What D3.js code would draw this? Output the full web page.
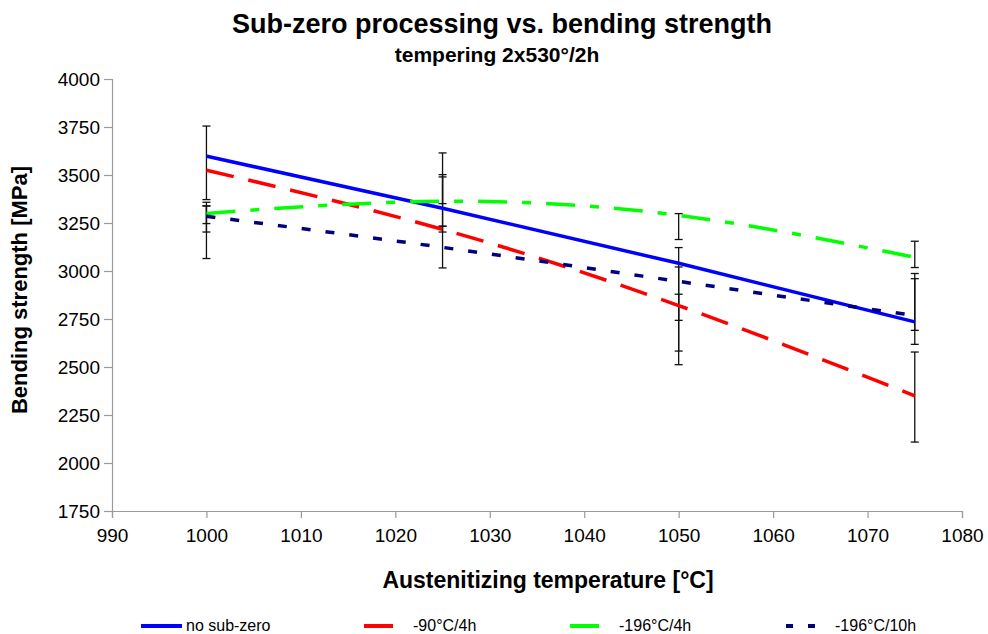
<!DOCTYPE html>
<html>
<head>
<meta charset="utf-8">
<script src="https://cdn.jsdelivr.net/npm/d3@7"></script>
<style>
  html, body { margin: 0; padding: 0; background: #fff; }
  svg { display: block; font-family: "Liberation Sans", Arial, sans-serif; }
</style>
</head>
<body>
<svg id="chart" width="988" height="634"></svg>
<script>
// ---- data ----
const temps = [1000, 1025, 1050, 1075];
const seriesNames = ["no sub-zero", "-90°C/4h", "-196°C/4h", "-196°C/10h"];
const noSubZero   = [3598, 3327, 3040, 2735];
const minus90_4h  = [3525, 3217, 2820, 2350];
const minus196_4h = [3300, 3363, 3290, 3071];
const minus196_10h = [3285, 3123, 2946, 2768];
// error bar ranges (low / high) per series
const noSubZeroLow   = [3372, 3233, 2743, 2618];
const noSubZeroHigh  = [3755, 3615, 3122, 2987];
const minus90_4hLow  = [3247, 3016, 2512, 2109];
const minus90_4hHigh = [3358, 3490, 2879, 2578];
const minus196_4hLow  = [3203, 3351, 3164, 3018];
const minus196_4hHigh = [3339, 3502, 3299, 3155];
const minus196_10hLow  = [3065, 3203, 2583, 2691];
const minus196_10hHigh = [3339, 3233, 3021, 2960];
const xTicks = [990, 1000, 1010, 1020, 1030, 1040, 1050, 1060, 1070, 1080];
const yTicks = [1750, 2000, 2250, 2500, 2750, 3000, 3250, 3500, 3750, 4000];
const titleText = "Sub-zero processing vs. bending strength";
const subtitleText = "tempering 2x530°/2h";
const xTitle = "Austenitizing temperature [°C]";
const yTitle = "Bending strength [MPa]";

const series = [
  {name: seriesNames[0], values: noSubZero, low: noSubZeroLow, high: noSubZeroHigh, color: "#0000FF", dash: null},
  {name: seriesNames[1], values: minus90_4h, low: minus90_4hLow, high: minus90_4hHigh, color: "#FF0000", dash: "28,15"},
  {name: seriesNames[2], values: minus196_4h, low: minus196_4hLow, high: minus196_4hHigh, color: "#00FF00", dash: "29,15,9,15"},
  {name: seriesNames[3], values: minus196_10h, low: minus196_10hLow, high: minus196_10hHigh, color: "#000080", dash: "9,15"}
];

const svg = d3.select("#chart");
const x = d3.scaleLinear().domain([990, 1080]).range([112, 962]);
const y = d3.scaleLinear().domain([1750, 4000]).range([511, 79]);

// titles
svg.append("text").attr("x", 502).attr("y", 33).attr("text-anchor", "middle")
  .attr("font-size", 27).attr("font-weight", "bold").text(titleText);
svg.append("text").attr("x", 497).attr("y", 62).attr("text-anchor", "middle")
  .attr("font-size", 21).attr("font-weight", "bold").text(subtitleText);

// axes
const axisColor = "#9a9a9a";
const gx = svg.append("g").attr("transform", "translate(0,511)")
  .call(d3.axisBottom(x).tickValues(xTicks).tickSize(7).tickPadding(11).tickFormat(d3.format("d")));
const gy = svg.append("g").attr("transform", "translate(112,0)")
  .call(d3.axisLeft(y).tickValues(yTicks).tickSize(8).tickPadding(4).tickFormat(d3.format("d")));
[gx, gy].forEach(g => {
  g.select(".domain").attr("stroke", axisColor).attr("stroke-width", 1.2);
  g.selectAll(".tick line").attr("stroke", axisColor).attr("stroke-width", 1.2);
  g.selectAll(".tick text").attr("fill", "#000").attr("font-size", 19)
    .attr("font-family", "Liberation Sans, Arial, sans-serif");
});

svg.append("text").attr("x", 548).attr("y", 588).attr("text-anchor", "middle")
  .attr("font-size", 23).attr("font-weight", "bold").text(xTitle);
svg.append("text").attr("transform", "translate(27,290) rotate(-90)").attr("text-anchor", "middle")
  .attr("font-size", 22).attr("font-weight", "bold").text(yTitle);

// error bars
const eb = svg.append("g");
series.forEach(s => {
  temps.forEach((t, i) => {
    const cx = x(t);
    eb.append("line").attr("x1", cx).attr("x2", cx).attr("y1", y(s.low[i])).attr("y2", y(s.high[i]))
      .attr("stroke", "#111").attr("stroke-width", 1.3);
    [s.low[i], s.high[i]].forEach(v => {
      eb.append("line").attr("x1", cx - 4).attr("x2", cx + 4).attr("y1", y(v)).attr("y2", y(v))
        .attr("stroke", "#111").attr("stroke-width", 1.3);
    });
  });
});

// lines
const line = d3.line().x(d => x(d[0])).y(d => y(d[1])).curve(d3.curveNatural);
series.forEach(s => {
  svg.append("path").datum(temps.map((t, i) => [t, s.values[i]]))
    .attr("d", line).attr("fill", "none").attr("stroke", s.color)
    .attr("stroke-width", 3.5).attr("stroke-dasharray", s.dash);
});

// legend
const legendItems = [
  {x1: 141, x2: 182, tx: 186, dash: null},
  {x1: 364, x2: 393, tx: 413, dash: null},
  {x1: 570, x2: 599, tx: 619, dash: null},
  {x1: 786, x2: 815, tx: 835, dash: "7,15"}
];
const lg = svg.append("g");
series.forEach((s, i) => {
  const it = legendItems[i];
  lg.append("line").attr("x1", it.x1).attr("x2", it.x2).attr("y1", 626).attr("y2", 626)
    .attr("stroke", s.color).attr("stroke-width", 4).attr("stroke-dasharray", it.dash);
  lg.append("text").attr("x", it.tx).attr("y", 631).attr("font-size", 16).text(s.name);
});
</script>
</body>
</html>
